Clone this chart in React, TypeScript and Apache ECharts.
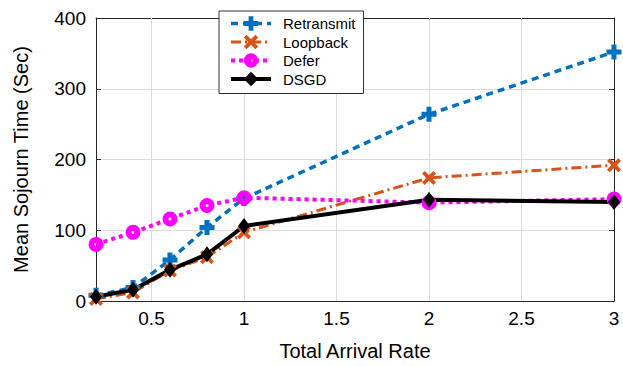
import React, { useEffect, useRef } from "react";
import * as echarts from "echarts";

const arrivalRates = [0.2, 0.4, 0.6, 0.8, 1, 2, 3];
const retransmit = [8, 19, 58, 104, 145, 264, 352];
const loopback = [3, 12, 43, 62, 97, 174, 192];
const defer = [80, 97, 116, 135, 146, 139, 144];
const dsgd = [6, 16, 44, 66, 106, 143, 140];
const xTicks = [0.5, 1, 1.5, 2, 2.5, 3];
const seriesNames = ["Retransmit", "Loopback", "Defer", "DSGD"];

const PLUS = "path://M-1,-3L1,-3L1,-1L3,-1L3,1L1,1L1,3L-1,3L-1,1L-3,1L-3,-1L-1,-1Z";
const CROSS =
  "path://M-2.2,-3.6L0,-1.4L2.2,-3.6L3.6,-2.2L1.4,0L3.6,2.2L2.2,3.6L0,1.4L-2.2,3.6L-3.6,2.2L-1.4,0L-3.6,-2.2Z";
const RING =
  "path://M0,-7.5A7.5,7.5,0,1,1,0,7.5A7.5,7.5,0,1,1,0,-7.5ZM0,-1.6A1.6,1.6,0,1,0,0,1.6A1.6,1.6,0,1,0,0,-1.6Z";

const FONT = "Liberation Sans";
const legendText = { fontFamily: FONT, fontSize: 15, color: "#000", padding: [0, 0, 0, 7] };

export default function App() {
  const ref = useRef<HTMLDivElement>(null);
  useEffect(() => {
    const chart = echarts.init(ref.current!, null, { renderer: "svg" });
    const pair = (ys: number[]) => arrivalRates.map((x, i) => [x, ys[i]]);
    const common = {
      type: "line",
      showAllSymbol: true,
      z: 3,
    };
    chart.setOption({
      animation: false,
      textStyle: { fontFamily: FONT },
      grid: { left: 96, right: 9, top: 18, bottom: 59, containLabel: false },
      legend: {
        orient: "vertical",
        left: 219,
        top: 11,
        data: seriesNames,
        backgroundColor: "#fff",
        borderColor: "#333",
        borderWidth: 1,
        borderRadius: 0,
        padding: [5, 8, 7, 10],
        itemGap: 3.5,
        itemWidth: 40,
        itemHeight: 18,
        lineStyle: { width: "inherit" },
        textStyle: legendText,
        z: 10,
      },
      xAxis: [
        {
          type: "value",
          min: 0.2,
          max: 3,
          name: "Total Arrival Rate",
          nameLocation: "middle",
          nameGap: 40,
          nameTextStyle: { fontFamily: FONT, fontSize: 20, color: "#000" },
          axisLine: { show: true, lineStyle: { color: "#262626", width: 1 } },
          axisTick: { show: true, inside: true, length: 5, customValues: xTicks, lineStyle: { color: "#262626" } },
          axisLabel: { customValues: xTicks, fontFamily: FONT, fontSize: 19, color: "#000", margin: 8 },
          splitLine: { show: false },
        },
        {
          type: "value",
          min: 0.2,
          max: 3,
          position: "top",
          axisLine: { show: true, onZero: false, lineStyle: { color: "#262626", width: 1 } },
          axisTick: { show: true, inside: true, length: 5, customValues: xTicks, lineStyle: { color: "#262626" } },
          axisLabel: { show: false },
          splitLine: { show: false },
        },
      ],
      yAxis: [
        {
          type: "value",
          min: 0,
          max: 400,
          interval: 100,
          name: "Mean Sojourn Time (Sec)",
          nameLocation: "middle",
          nameGap: 65,
          nameTextStyle: { fontFamily: FONT, fontSize: 20, color: "#000" },
          axisLine: { show: true, lineStyle: { color: "#262626", width: 1 } },
          axisTick: { show: true, inside: true, length: 5, lineStyle: { color: "#262626" } },
          axisLabel: { fontFamily: FONT, fontSize: 19, color: "#000", margin: 10 },
          splitLine: { show: true, lineStyle: { color: "#dcdcdc", width: 1 } },
        },
        {
          type: "value",
          min: 0,
          max: 400,
          interval: 100,
          position: "right",
          axisLine: { show: true, onZero: false, lineStyle: { color: "#262626", width: 1 } },
          axisTick: { show: true, inside: true, length: 5, lineStyle: { color: "#262626" } },
          axisLabel: { show: false },
          splitLine: { show: false },
        },
      ],
      series: [
        {
          ...common,
          name: "Retransmit",
          data: pair(retransmit),
          symbol: PLUS,
          symbolSize: 15,
          lineStyle: { color: "#0072BD", width: 3.5, type: [7, 5] },
          itemStyle: { color: "#0072BD" },
          markLine: {
            silent: true,
            symbol: "none",
            label: { show: false },
            lineStyle: { color: "#dcdcdc", width: 1, type: "solid" },
            z: 1,
            data: xTicks.slice(0, -1).map((v) => ({ xAxis: v })),
          },
        },
        {
          ...common,
          name: "Loopback",
          data: pair(loopback),
          symbol: CROSS,
          symbolSize: 14,
          lineStyle: { color: "#D95319", width: 3, type: [10, 4, 2, 4] },
          itemStyle: { color: "#D95319" },
        },
        {
          ...common,
          name: "Defer",
          data: pair(defer),
          symbol: RING,
          symbolSize: 15,
          lineStyle: { color: "#FF00FF", width: 4, type: [4, 4] },
          itemStyle: { color: "#FF00FF" },
        },
        {
          ...common,
          name: "DSGD",
          data: pair(dsgd),
          symbol: "diamond",
          symbolSize: [12, 16],
          lineStyle: { color: "#000", width: 4 },
          itemStyle: { color: "#000" },
        },
      ],
    });
    return () => chart.dispose();
  }, []);
  return (
    <div
      ref={ref}
      style={{ position: "absolute", left: 0, top: 0, width: 623, height: 366 }}
    />
  );
}
